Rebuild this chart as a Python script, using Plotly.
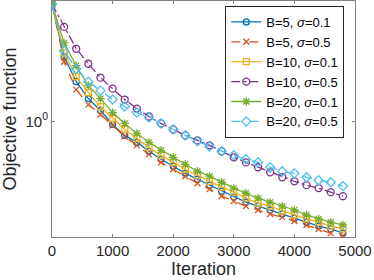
import plotly.graph_objects as go

iterations = [0, 200, 400, 600, 800, 1000, 1200, 1400, 1600, 1800, 2000, 2200, 2400,
              2600, 2800, 3000, 3200, 3400, 3600, 3800, 4000, 4200, 4400, 4600, 4800]

b5_s01 = [2.965, 1.820, 1.445, 1.236, 1.107, 0.973, 0.879, 0.824, 0.759, 0.705, 0.661, 0.619, 0.586,
          0.555, 0.525, 0.497, 0.474, 0.457, 0.441, 0.425, 0.409, 0.394, 0.380, 0.370, 0.356]
b5_s05 = [2.965, 1.738, 1.343, 1.169, 1.067, 0.964, 0.871, 0.802, 0.738, 0.685, 0.643, 0.603, 0.565,
          0.535, 0.501, 0.479, 0.457, 0.441, 0.425, 0.413, 0.398, 0.384, 0.370, 0.356, 0.347]
b10_s01 = [2.965, 1.888, 1.514, 1.306, 1.148, 1.028, 0.929, 0.855, 0.787, 0.731, 0.685, 0.643, 0.608,
           0.575, 0.545, 0.520, 0.492, 0.470, 0.457, 0.437, 0.421, 0.406, 0.394, 0.380, 0.370]
b10_s05 = [2.965, 2.399, 1.959, 1.706, 1.500, 1.355, 1.225, 1.127, 1.047, 0.982, 0.929, 0.879, 0.839,
           0.802, 0.759, 0.718, 0.685, 0.655, 0.625, 0.597, 0.575, 0.555, 0.540, 0.520, 0.501]
b20_s01 = [2.965, 2.070, 1.675, 1.393, 1.236, 1.086, 0.982, 0.895, 0.824, 0.766, 0.718, 0.673, 0.631,
           0.603, 0.570, 0.540, 0.515, 0.492, 0.474, 0.457, 0.441, 0.421, 0.406, 0.394, 0.384]
b20_s05 = [2.965, 1.923, 1.629, 1.445, 1.330, 1.225, 1.148, 1.086, 1.038, 0.982, 0.929, 0.879, 0.832,
           0.794, 0.759, 0.731, 0.705, 0.685, 0.655, 0.631, 0.619, 0.597, 0.581, 0.570, 0.550]

names = ["B=5, <i>σ</i>=0.1", "B=5, <i>σ</i>=0.5", "B=10, <i>σ</i>=0.1",
         "B=10, <i>σ</i>=0.5", "B=20, <i>σ</i>=0.1", "B=20, <i>σ</i>=0.5"]
series = [b5_s01, b5_s05, b10_s01, b10_s05, b20_s01, b20_s05]
colors = ["#0072BD", "#D95319", "#EDB120", "#7E2F8E", "#77AC30", "#4DBEEE"]
dashes = ["solid", "dash", "solid", "dashdot", "solid", "dash"]
symbols = ["circle-open", "x-thin-open", "square-open", "circle-open", "asterisk-open", "diamond-open"]
sizes = [6, 6, 6, 7, 7, 7]

fig = go.Figure()
for name, ys, c, d, s, sz in zip(names, series, colors, dashes, symbols, sizes):
    fig.add_trace(go.Scatter(
        x=iterations, y=ys, name=name, mode="lines+markers",
        line=dict(color=c, width=1.3, dash=d),
        marker=dict(symbol=s, size=sz, color=c, line=dict(color=c, width=1.3)),
    ))

font_family = "Liberation Sans, Arial, sans-serif"
axis_common = dict(
    showline=True, linecolor="#7f7f7f", linewidth=1, mirror="allticks",
    ticks="inside", ticklen=3, tickcolor="#7f7f7f", showgrid=False, zeroline=False,
    tickfont=dict(size=15, color="#262626", family=font_family), automargin=False,
)

fig.update_layout(
    width=374, height=280,
    margin=dict(l=52, r=19, t=1, b=43),
    paper_bgcolor="white", plot_bgcolor="white",
    font=dict(family=font_family, color="#262626"),
    xaxis=dict(range=[0, 5000], tickvals=[0, 1000, 2000, 3000, 4000, 5000],
               title=dict(text="Iteration", font=dict(size=18), standoff=0), **axis_common),
    yaxis=dict(type="log", range=[-0.464, 0.484], tickvals=[1], ticktext=["10<sup>0</sup>"],
               title=dict(text="Objective function", font=dict(size=18), standoff=4), **axis_common),
    legend=dict(x=0.572, y=0.979, xanchor="left", yanchor="top",
                bgcolor="white", bordercolor="#262626", borderwidth=1,
                font=dict(size=13, color="#000000"), itemwidth=30, tracegroupgap=0),
    showlegend=True,
)

fig.write_html("out.html", config={"displayModeBar": False},
               post_script="document.body.style.margin='0';")
